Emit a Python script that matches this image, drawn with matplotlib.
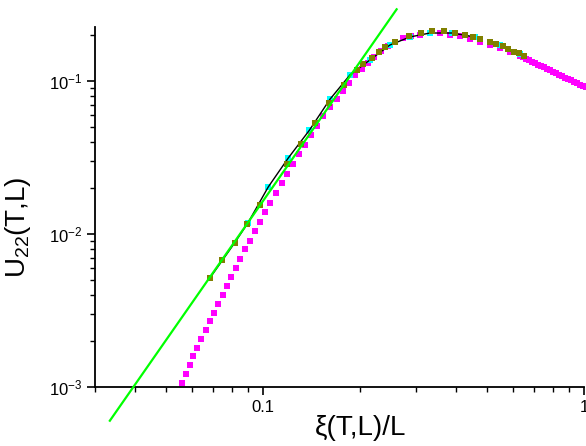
import matplotlib
matplotlib.use('Agg')
import matplotlib.pyplot as plt

plt.rcParams['font.family'] = ['Liberation Sans', 'DejaVu Sans']
plt.rcParams['mathtext.fontset'] = 'custom'
plt.rcParams['mathtext.rm'] = 'Liberation Sans'
plt.rcParams['mathtext.it'] = 'Liberation Sans:italic'

# magenta data set (dense, extends past 1)
mag_x = [0.0561, 0.0578, 0.0592, 0.0607, 0.0624, 0.0642, 0.0663, 0.0682, 0.0704,
         0.0726, 0.0749, 0.0773, 0.0796, 0.0822, 0.0848, 0.0879, 0.0911, 0.0944,
         0.0979, 0.1017, 0.1054, 0.1100, 0.1144, 0.1185, 0.1237, 0.1292, 0.1352,
         0.1411, 0.1473, 0.1541, 0.1617, 0.1696, 0.1771, 0.1853, 0.1939, 0.2030,
         0.2128, 0.2222, 0.2331, 0.2451, 0.2577, 0.2730, 0.2891, 0.3083, 0.3313,
         0.3560, 0.3824, 0.4109, 0.4414, 0.4743, 0.5096, 0.5474, 0.5882, 0.6318,
         0.6456, 0.6597, 0.6741, 0.6888, 0.7038, 0.7192, 0.7349, 0.7509, 0.7673,
         0.7840, 0.8011, 0.8186, 0.8364, 0.8547, 0.8733, 0.8924, 0.9118, 0.9317,
         0.9520, 0.9728, 0.9940, 1.0157]
mag_y = [0.001067, 0.001216, 0.001386, 0.001589, 0.00180, 0.00206, 0.00236, 0.00269,
         0.00306, 0.00349, 0.00401, 0.00459, 0.00526, 0.00600, 0.00690, 0.00794,
         0.00904, 0.01047, 0.01203, 0.01387, 0.01603, 0.01845, 0.02143, 0.02478,
         0.02856, 0.0332, 0.0384, 0.0442, 0.0511, 0.0590, 0.0673, 0.0766, 0.0864,
         0.0975, 0.1090, 0.1198, 0.1317, 0.1441, 0.1570, 0.1693, 0.1798, 0.1896,
         0.1969, 0.2013, 0.2044, 0.2044, 0.2013, 0.1954, 0.1882, 0.1798, 0.1719,
         0.1631, 0.1547, 0.1457, 0.1426, 0.1395, 0.1366, 0.1337, 0.1308, 0.1280,
         0.1253, 0.1226, 0.1200, 0.1174, 0.1149, 0.1125, 0.1101, 0.1077, 0.1054,
         0.1032, 0.1010, 0.0988, 0.0967, 0.0947, 0.0926, 0.0907]

# olive data set
olive_x = [0.0684, 0.0748, 0.0816, 0.0895, 0.0979, 0.1188, 0.1318, 0.1452, 0.1609,
           0.1788, 0.1967, 0.2054, 0.2182, 0.2304, 0.2400, 0.2577, 0.2849, 0.3105,
           0.3362, 0.3672, 0.3963, 0.4267, 0.4520, 0.4743, 0.5096, 0.5322, 0.5582,
           0.5811, 0.6052, 0.6290, 0.6516]
olive_y = [0.00516, 0.00673, 0.00873, 0.01171, 0.01547, 0.02868, 0.03876, 0.0529,
           0.0715, 0.0942, 0.1180, 0.1286, 0.1420, 0.1554, 0.1661, 0.1807, 0.1969,
           0.2069, 0.2113, 0.2123, 0.2050, 0.2007, 0.1948, 0.1882, 0.1807, 0.1745,
           0.1693, 0.1618, 0.1554, 0.1517, 0.1457]

# cyan data set
cyan_x = [0.0898, 0.1039, 0.1201, 0.1394, 0.1617, 0.1866, 0.2154, 0.2487, 0.2870,
          0.3313, 0.3879, 0.4575, 0.5474, 0.6318]
cyan_y = [0.01180, 0.02029, 0.0315, 0.0475, 0.0759, 0.1094, 0.1372, 0.1719, 0.1940,
          0.2059, 0.2059, 0.1940, 0.1719, 0.1502]

# black connecting line
line_x = [0.0684, 0.0748, 0.0816, 0.0898, 0.1039, 0.1201, 0.1394, 0.1617, 0.1866,
          0.2154, 0.2487, 0.2870, 0.3313, 0.3879, 0.4575]
line_y = [0.00516, 0.00673, 0.00873, 0.01180, 0.02029, 0.0315, 0.0475, 0.0759,
          0.1094, 0.1372, 0.1719, 0.1940, 0.2059, 0.2059, 0.1940]

# green power-law fit (slope 3), end points
fit_x = [0.03337, 0.2609]
fit_y = [0.000602, 0.2942]

fig = plt.figure(figsize=(5.86, 4.46), dpi=100)
ax = fig.add_axes([95 / 586, 59 / 446, 489 / 586, 360 / 446])

ax.plot(mag_x, mag_y, 's', color='#ff00ff', ms=4.4, mew=0, clip_on=False, zorder=2)
ax.plot(cyan_x, cyan_y, 's', color='#00ffff', ms=4.4, mew=0, zorder=3)
ax.plot(line_x, line_y, '-', color='black', lw=1.0, zorder=4)
ax.plot(olive_x, olive_y, 's', color='#808000', ms=5.0, mew=0, zorder=5)
ax.plot(fit_x, fit_y, '-', color='#00ff00', lw=1.6, clip_on=False, zorder=6)

ax.set_xscale('log')
ax.set_yscale('log')
ax.set_xlim(0.03, 1.0)
ax.set_ylim(0.001, 0.2254)
ax.set_xticks([0.1, 1])
ax.set_xticklabels(['0.1', '1'])

ax.spines['top'].set_visible(False)
ax.spines['right'].set_visible(False)
ax.spines['left'].set_linewidth(1.3)
ax.spines['bottom'].set_linewidth(1.3)
ax.tick_params(which='major', length=6, width=1.2, labelsize=12, pad=3)
ax.tick_params(which='minor', length=3.5, width=1.0)

ax.set_xlabel('ξ(T,L)/L', fontsize=20)
ax.set_ylabel(r'U$_{\mathregular{22}}$(T,L)', fontsize=20)
ax.xaxis.set_label_coords(0.544, -0.078)
ax.yaxis.set_label_coords(-0.127, 0.444)

fig.savefig('out.png', dpi=100)
